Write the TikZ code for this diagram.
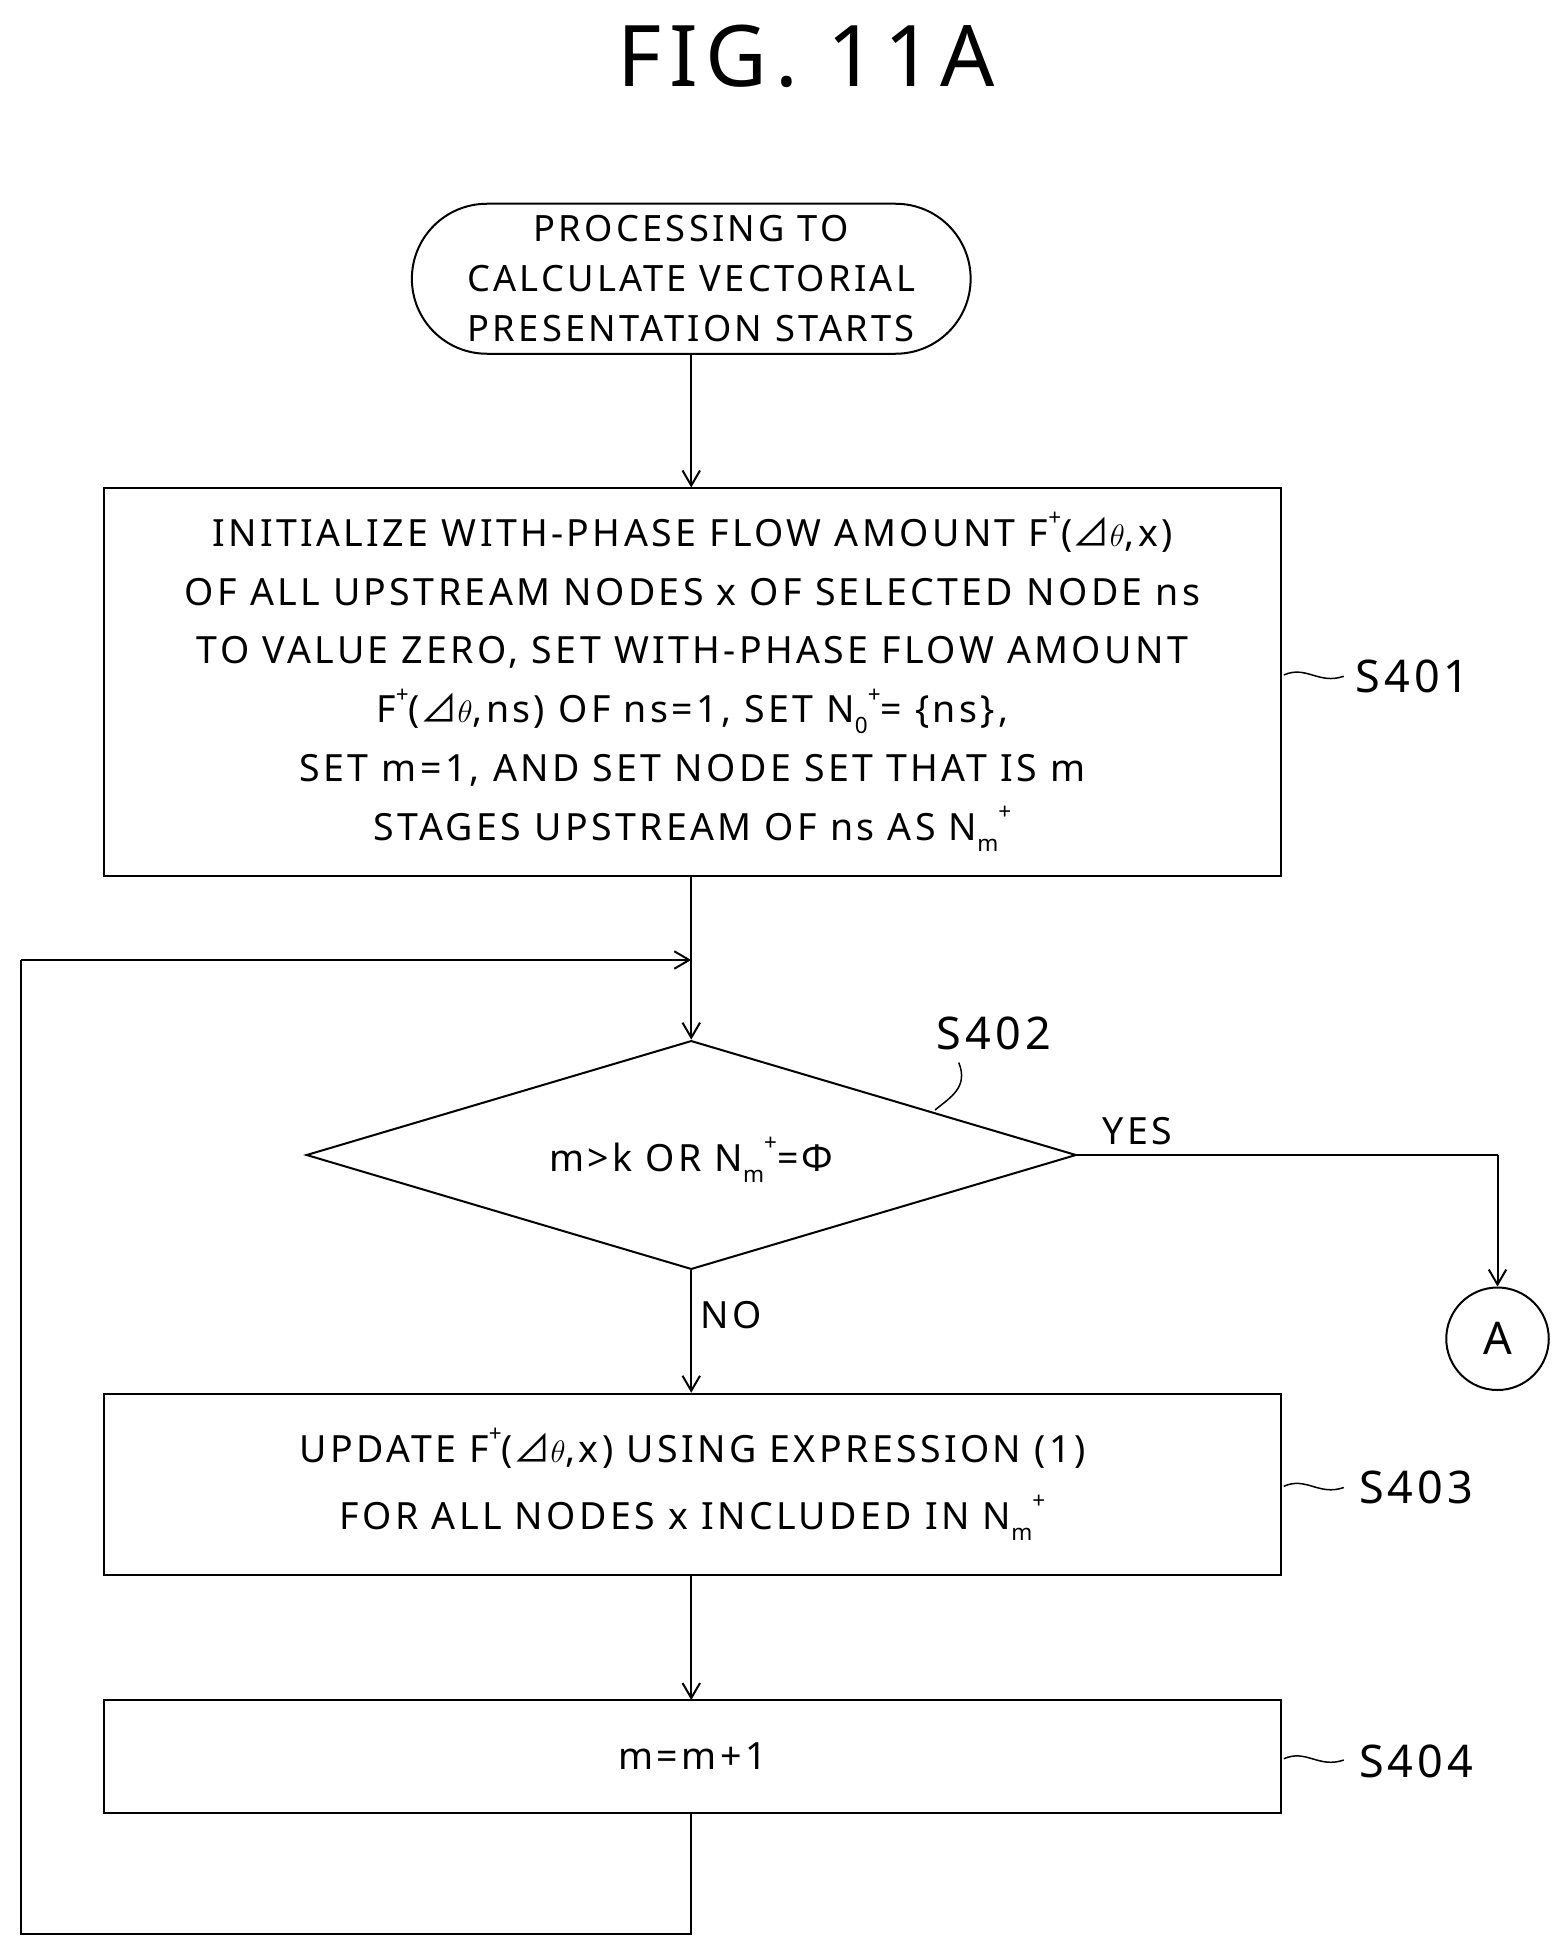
\documentclass[tikz,border=0pt]{standalone}
\usepackage{fontspec}
\setmainfont{Noto Sans}[LetterSpace=9]
\newfontfamily\cjk{Noto Sans CJK JP}
\usetikzlibrary{shapes.geometric,arrows.meta}
\newcommand{\tri}{{\cjk ⊿}}
\newcommand{\sps}[1]{\raisebox{0.55em}{\fontsize{18pt}{18pt}\selectfont #1}}
\newcommand{\sbs}[1]{\raisebox{-0.3em}{\fontsize{18pt}{18pt}\selectfont #1}}
\begin{document}
\begin{tikzpicture}[x=1pt,y=-1pt,
  line width=1.6pt,
  txt/.style={font=\fontsize{30pt}{46pt}\selectfont, align=center},
  box/.style={draw, txt, inner sep=0pt},
  arr/.style={-{Straight Barb[length=12pt,width=14pt]}},
  lab/.style={font=\fontsize{36pt}{36pt}\selectfont}]
\useasboundingbox (0,0) rectangle (1241.6,1548.8);
\node[font=\fontsize{68pt}{68pt}\selectfont] (title) at (645,45) {FIG. 11A};
\node[draw, rounded corners=60pt, minimum width=447pt, minimum height=120pt, txt, font=\fontsize{29pt}{40pt}\selectfont] (start) at (553,223) {PROCESSING TO\\CALCULATE VECTORIAL\\PRESENTATION STARTS};
\node[box, minimum width=942pt, minimum height=311pt, font=\fontsize{30pt}{47pt}\selectfont] (s401) at (554,545.5) {INITIALIZE WITH-PHASE FLOW AMOUNT F\sps{+}(\tri$\theta$,x)\\OF ALL UPSTREAM NODES x OF SELECTED NODE ns\\TO VALUE ZERO, SET WITH-PHASE FLOW AMOUNT\\F\sps{+}(\tri$\theta$,ns) OF ns=1, SET N\sbs{0}\sps{+}= \{ns\},\\SET m=1, AND SET NODE SET THAT IS m\\STAGES UPSTREAM OF ns AS N\sbs{m}\sps{+}};
\node[draw, diamond, aspect=3.37, minimum width=616pt, minimum height=183pt, inner sep=0pt, txt] (d) at (553,924) {};
\node[txt] (dt) at (553,928) {m>k OR N\sbs{m}\sps{+}=Φ};
\node[draw, circle, minimum size=82pt, inner sep=0pt, lab] (A) at (1198,1071) {A};
\node[box, minimum width=942pt, minimum height=145pt, font=\fontsize{30pt}{54pt}\selectfont] (s403) at (554,1187.5) {UPDATE F\sps{+}(\tri$\theta$,x) USING EXPRESSION (1)\\FOR ALL NODES x INCLUDED IN N\sbs{m}\sps{+}};
\node[box, minimum width=942pt, minimum height=90pt] (s404) at (554,1405) {m=m+1};
\node[lab] (l401) at (1130,541) {S401};
\node[lab] (l402) at (795,827) {S402};
\node[lab] (l403) at (1133,1190) {S403};
\node[lab] (l404) at (1133,1409) {S404};
\node[txt] (yes) at (910,905) {YES};
\node[txt] (no) at (585,1052) {NO};
\coordinate (j1) at (553,768);
\coordinate (c1) at (1198,924);
\coordinate (b1) at (553,1547);
\coordinate (b2) at (17,1547);
\coordinate (b3) at (17,768);
\draw[arr] (start.south) -- (553,390);
\draw (553,701) -- (j1);
\draw[arr] (j1) -- (d.north);
\draw (d.east) -- (c1);
\draw[arr] (c1) -- (A.north);
\draw[arr] (d.south) -- (s403.north -| d.south);
\draw[arr] (553,1260) -- (553,1360);
\draw (553,1450) -- (b1) -- (b2) -- (b3);
\draw[arr] (b3) -- (j1);
\draw[line width=1.2pt] (1027,540) .. controls (1045,532) and (1055,548) .. (1075,541);
\draw[line width=1.2pt] (1027,1189) .. controls (1045,1181) and (1055,1197) .. (1075,1190);
\draw[line width=1.2pt] (1027,1407) .. controls (1045,1399) and (1055,1415) .. (1075,1408);
\draw[line width=1.2pt] (767,850) .. controls (775,870) and (760,878) .. (748,888);
\end{tikzpicture}
\end{document}
